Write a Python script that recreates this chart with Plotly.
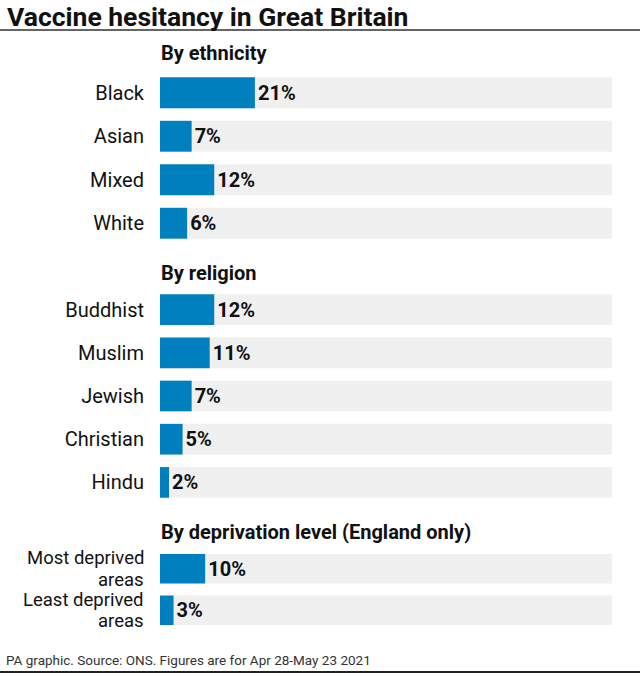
import plotly.graph_objects as go

ethnicity = ["Black", "Asian", "Mixed", "White"]
ethnicity_vals = [21, 7, 12, 6]
religion = ["Buddhist", "Muslim", "Jewish", "Christian", "Hindu"]
religion_vals = [12, 11, 7, 5, 2]
deprivation = ["Most deprived<br>areas", "Least deprived<br>areas"]
deprivation_vals = [10, 3]
sections = ["By ethnicity", "By religion", "By deprivation level (England only)"]

W, H = 640, 677
FONT = "Roboto"
BLUE = "#0080bf"
GREY = "#f0f0f0"
INK = "#111111"

def py(px):
    return 1 - px / H

# pixel domains (top, bottom) for each section
doms = [(71, 245), (288, 504), (546, 633)]
header_y = [53, 273, 532]

fig = go.Figure()
groups = [(ethnicity, ethnicity_vals), (religion, religion_vals), (deprivation, deprivation_vals)]
for i, (cats, vals) in enumerate(groups):
    xa = "x" if i == 0 else f"x{i+1}"
    ya = "y" if i == 0 else f"y{i+1}"
    fig.add_trace(go.Bar(y=cats, x=[100] * len(cats), orientation="h",
                         marker=dict(color=GREY, line_width=0), width=0.71,
                         hoverinfo="skip", xaxis=xa, yaxis=ya, showlegend=False))
    fig.add_trace(go.Bar(y=cats, x=vals, orientation="h",
                         marker=dict(color=BLUE, line_width=0), width=0.71,
                         text=[f"{v}%" for v in vals], textposition="outside",
                         textfont=dict(family=FONT, size=20, color=INK, weight="bold"),
                         cliponaxis=False, xaxis=xa, yaxis=ya, showlegend=False))
    top, bot = doms[i]
    key = "" if i == 0 else str(i + 1)
    multiline = any("<br>" in c for c in cats)
    fig.update_layout(**{
        f"xaxis{key}": dict(domain=[160 / W, 612 / W], range=[0, 100], visible=False,
                            anchor=ya),
        f"yaxis{key}": dict(domain=[py(bot), py(top)], autorange="reversed",
                            categoryorder="array", categoryarray=cats,
                            showgrid=False, zeroline=False, showline=False, ticks="",
                            showticklabels=not multiline,
                            ticklabelstandoff=15,
                            tickfont=dict(family=FONT, size=20, color=INK),
                            anchor=xa, type="category"),
    })
    if multiline:
        for c in cats:
            lines = c.split("<br>")
            n = len(lines)
            for j, ln in enumerate(lines):
                fig.add_annotation(text=ln, xref="paper", yref=ya, x=145 / W, y=c,
                                   xanchor="right", yanchor="middle", showarrow=False,
                                   yshift=(n - 1) / 2 * 21.5 - j * 21.5, borderpad=0,
                                   font=dict(family=FONT, size=18.5, color=INK))
    fig.add_annotation(text=f"<b>{sections[i]}</b>", xref="paper", yref="paper",
                       x=159 / W, y=py(header_y[i]), xanchor="left", yanchor="middle",
                       showarrow=False, font=dict(family=FONT, size=20, color=INK))

fig.add_annotation(text="<b>Vaccine hesitancy in Great Britain</b>", xref="paper", yref="paper",
                   x=6 / W, y=1, xanchor="left", yanchor="top", showarrow=False,
                   borderpad=0, font=dict(family=FONT, size=26.5, color=INK))
fig.add_annotation(text="PA graphic. Source: ONS. Figures are for Apr 28-May 23 2021",
                   xref="paper", yref="paper", x=4 / W, y=py(660), xanchor="left",
                   yanchor="middle", showarrow=False,
                   font=dict(family=FONT, size=13.5, color="#333333"))
fig.add_shape(type="line", xref="paper", yref="paper", x0=0, x1=1, y0=py(30), y1=py(30),
              line=dict(color="#333333", width=1.5))
fig.add_shape(type="line", xref="paper", yref="paper", x0=0, x1=1, y0=py(672), y1=py(672),
              line=dict(color="#222222", width=2))

fig.update_layout(width=W, height=H, margin=dict(l=0, r=0, t=0, b=0),
                  paper_bgcolor="white", plot_bgcolor="white", barmode="overlay",
                  font=dict(family=FONT))
fig.write_html("out.html", config={"displayModeBar": False},
               post_script="document.body.style.margin='0';")
